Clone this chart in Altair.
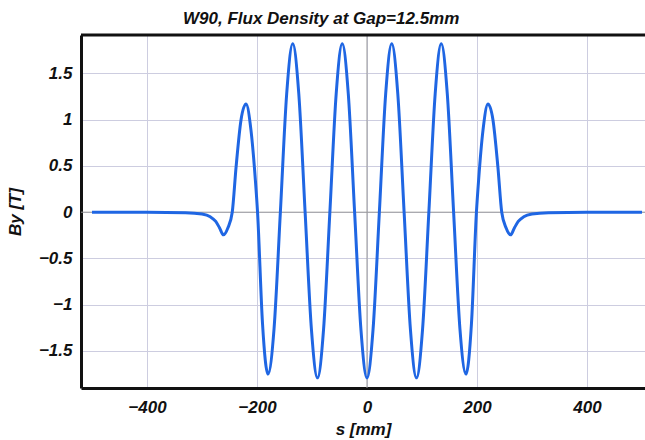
import altair as alt
import pandas as pd

# Values
s_mm = [-500, -400, -330, -300, -285, -275, -268, -261, -253, -245, -238, -229,
        -220, -211, -203, -199, -190, -180, -169, -157.5, -146, -135, -124,
        -112.5, -101, -90, -79, -67.5, -56, -45, -34, -22.5, -11, 0,
        11, 22.5, 34, 45, 56, 67.5, 79, 90, 101, 112.5, 124, 135, 146, 157.5,
        169, 180, 190, 199, 203, 211, 220, 229, 238, 245, 253, 261, 268, 275,
        285, 300, 330, 400, 500]
by_T = [0, 0, -0.005, -0.02, -0.05, -0.1, -0.17, -0.245, -0.17, 0, 0.49, 1.0,
        1.17, 0.89, 0.35, 0, -1.2, -1.75, -1.26, 0, 1.28, 1.82, 1.28,
        0, -1.27, -1.79, -1.27, 0, 1.28, 1.82, 1.28, 0, -1.27, -1.79,
        -1.27, 0, 1.28, 1.82, 1.28, 0, -1.27, -1.79, -1.27, 0, 1.28, 1.82, 1.28, 0,
        -1.26, -1.75, -1.2, 0, 0.35, 0.89, 1.17, 1.0, 0.49, 0, -0.17, -0.245, -0.17, -0.1,
        -0.05, -0.02, -0.005, 0, 0]

x_ticks = [-400, -200, 0, 200, 400]
y_ticks = [-1.5, -1, -0.5, 0, 0.5, 1, 1.5]

df = pd.DataFrame({"s": s_mm, "By": by_T})

FONT = "Liberation Sans"
INK = "#111111"
x_scale = alt.Scale(domain=[-520, 505.5], nice=False, zero=False)
y_scale = alt.Scale(domain=[-1.9, 1.915], nice=False, zero=False)

common = dict(
    ticks=False, tickSize=0, grid=True, gridColor="#cdcde0", gridWidth=1,
    domain=True, domainColor=INK, domainWidth=3,
    labelFont=FONT, labelFontSize=17, labelFontWeight="bold", labelFontStyle="italic",
    labelColor=INK,
    titleFont=FONT, titleFontSize=17, titleFontWeight="bold", titleFontStyle="italic",
    titleColor=INK,
)

line = alt.Chart(df).mark_line(
    color="#1f66e3", strokeWidth=3, interpolate="monotone", clip=True
).encode(
    x=alt.X("s:Q", scale=x_scale, title="s [mm]",
            axis=alt.Axis(values=x_ticks, format="d", labelPadding=11,
                          titlePadding=6, **common)),
    y=alt.Y("By:Q", scale=y_scale, title="By [T]",
            axis=alt.Axis(values=y_ticks, format="~g", labelPadding=9,
                          titlePadding=14, **common)),
)

zero_v = alt.Chart().mark_rule(color="#9a9a9a", strokeWidth=1).encode(x=alt.datum(0))
zero_h = alt.Chart().mark_rule(color="#9a9a9a", strokeWidth=1).encode(y=alt.datum(0))
top_frame = alt.Chart().mark_rule(color=INK, strokeWidth=3).encode(y=alt.value(0))

chart = alt.layer(zero_v, zero_h, line, top_frame).properties(
    width=564,
    height=353,
    background="white",
    autosize=alt.AutoSizeParams(type="none"),
    padding={"left": 81, "top": 35, "right": 0, "bottom": 52},
    title=alt.TitleParams(
        "W90, Flux Density at Gap=12.5mm",
        anchor="start", frame="group", dx=102, offset=6,
        font=FONT, fontSize=17, fontWeight="bold", fontStyle="italic", color=INK,
    ),
).configure_view(stroke=None)

chart.save("out.html", embed_options={"renderer": "svg", "actions": False})
